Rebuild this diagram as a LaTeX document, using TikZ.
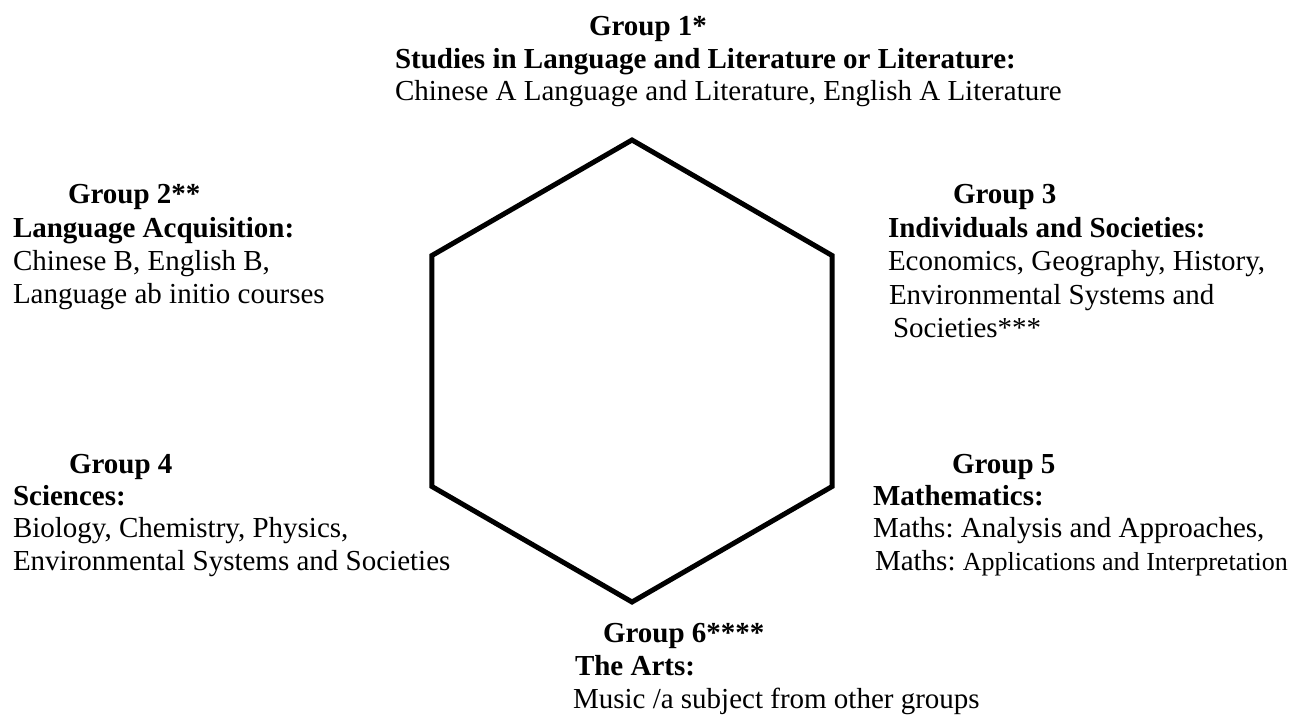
\documentclass[tikz,border=0pt]{standalone}
\usepackage{fontspec}
\setmainfont{Liberation Serif}
\usetikzlibrary{calc}
\begin{document}
\frenchspacing
\begin{tikzpicture}[x=1pt,y=-1pt,
  txt/.style={anchor=base west, inner sep=0pt, outer sep=0pt,
              font=\fontsize{29}{33}\selectfont},
  ttl/.style={anchor=base west, inner sep=0pt, outer sep=0pt,
              font=\fontsize{29}{33}\selectfont\bfseries},
  hexline/.style={line width=5pt, line join=miter}]
\useasboundingbox (0,0) rectangle (1295,715);

% the six-sided frame in the middle
\coordinate (hc) at (632,371);
\draw[hexline] ($(hc)+(270:231)$) -- ($(hc)+(330:231)$) -- ($(hc)+(30:231)$)
  -- ($(hc)+(90:231)$) -- ($(hc)+(150:231)$) -- ($(hc)+(210:231)$) -- cycle;

% Group 1 (top)
\node[ttl] (g1t) at (589,35)  {Group 1*};
\node[ttl] (g1h) at (395,68)  {Studies in Language and Literature or Literature:};
\node[txt] (g1a) at (395,100) {Chinese A Language and Literature, English A Literature};

% Group 2 (upper left)
\node[ttl] (g2t) at (68,203)  {Group 2**};
\node[ttl] (g2h) at (13,237)  {Language Acquisition:};
\node[txt] (g2a) at (13,270)  {Chinese B, English B,};
\node[txt] (g2b) at (13,303)  {Language ab initio courses};

% Group 3 (upper right)
\node[ttl] (g3t) at (953,203) {Group 3};
\node[ttl] (g3h) at (888,237) {Individuals and Societies:};
\node[txt] (g3a) at (888,270) {Economics, Geography, History,};
\node[txt] (g3b) at (889,304) {Environmental Systems and};
\node[txt] (g3c) at (893,337) {Societies***};

% Group 4 (lower left)
\node[ttl] (g4t) at (69,473)  {Group 4};
\node[ttl] (g4h) at (13,505)  {Sciences:};
\node[txt] (g4a) at (13,537)  {Biology, Chemistry, Physics,};
\node[txt] (g4b) at (13,570)  {Environmental Systems and Societies};

% Group 5 (lower right)
\node[ttl] (g5t) at (952,473) {Group 5};
\node[ttl] (g5h) at (873,505) {Mathematics:};
\node[txt] (g5a) at (873,537) {Maths: Analysis and Approaches,};
\node[txt] (g5b) at (875,570) {Maths: {\fontsize{26}{33}\selectfont Applications and Interpretation}};

% Group 6 (bottom)
\node[ttl] (g6t) at (603,642) {Group 6****};
\node[ttl] (g6h) at (575,675) {The Arts:};
\node[txt] (g6a) at (573,708) {Music /a subject from other groups};
\end{tikzpicture}
\end{document}
